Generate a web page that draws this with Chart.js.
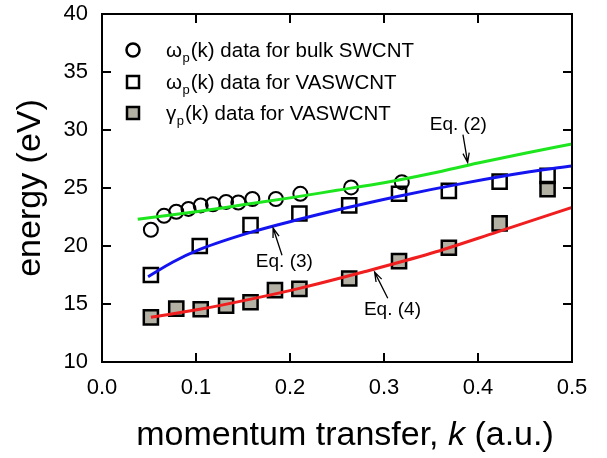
<!DOCTYPE html>
<html lang="en">
<head>
<meta charset="UTF-8">
<script src="https://cdn.jsdelivr.net/npm/chart.js@4.4.0/dist/chart.umd.min.js"></script>
<title>Plasmon dispersion</title>
<style>
  body { margin: 0; background: #fff; }
  #wrap { width: 607px; height: 458px; }
</style>
</head>
<body>
<div id="wrap"><canvas id="chart" width="607" height="458"></canvas></div>
<script>
// values: momentum transfer k (a.u.) vs energy (eV)
const kBulk = [0.052, 0.066, 0.079, 0.092, 0.105, 0.118, 0.132, 0.145, 0.160, 0.185, 0.211, 0.265, 0.319];
const wBulk = [21.4, 22.6, 22.95, 23.2, 23.5, 23.6, 23.8, 23.75, 24.05, 24.05, 24.5, 25.05, 25.5];

const kVaw = [0.052, 0.104, 0.158, 0.210, 0.263, 0.316, 0.369, 0.423, 0.474];
const wVaw = [17.5, 20.0, 21.8, 22.8, 23.5, 24.5, 24.75, 25.55, 26.05];

const kVag = [0.052, 0.079, 0.105, 0.132, 0.158, 0.184, 0.210, 0.263, 0.316, 0.369, 0.423, 0.474];
const gVag = [13.85, 14.6, 14.55, 14.85, 15.15, 16.2, 16.3, 17.2, 18.7, 19.85, 21.95, 24.9];

// fitted curves (Eq. 2, 3, 4)
const kEq2 = [0.038, 0.10, 0.15, 0.20, 0.25, 0.30, 0.35, 0.40, 0.45, 0.50];
const eEq2 = [22.3, 22.95, 23.55, 24.15, 24.8, 25.45, 26.25, 27.15, 28.0, 28.8];

const kEq3 = [0.049, 0.075, 0.104, 0.157, 0.210, 0.250, 0.313, 0.384, 0.455, 0.50];
const eEq3 = [17.35, 18.6, 19.7, 21.15, 22.3, 23.1, 24.25, 25.4, 26.4, 26.9];

const kEq4 = [0.052, 0.104, 0.157, 0.210, 0.280, 0.350, 0.420, 0.50];
const eEq4 = [13.85, 14.54, 15.4, 16.35, 17.8, 19.37, 21.2, 23.33];

const xTicks = [0.0, 0.1, 0.2, 0.3, 0.4, 0.5];
const yTicks = [10, 15, 20, 25, 30, 35, 40];

// "Eq. (n)" labels with arrows pointing at the curves
const eqLabels = ['Eq. (2)', 'Eq. (3)', 'Eq. (4)'];
const eqTextK = [0.379, 0.194, 0.309];
const eqTextE = [30.45, 18.6, 14.5];
const eqTailK = [0.384, 0.1915, 0.304];
const eqTailE = [29.6, 19.2, 15.5];
const eqTipK = [0.389, 0.182, 0.290];
const eqTipE = [27.2, 21.55, 17.75];

// legend
const legSymbol = ['ω', 'ω', 'γ'];
const legText = ['(k) data for bulk SWCNT', '(k) data for VASWCNT', '(k) data for VASWCNT'];

const FONT = "'Liberation Sans', Arial, sans-serif";
const GREY = '#b3b1a3';

const pts = (xs, ys) => xs.map((v, i) => ({ x: v, y: ys[i] }));

// grid lines only at the two ends of each axis -> the box round the plot
const edgeColor = (lo, hi) => c => (c.tick && (c.tick.value === lo || c.tick.value === hi)) ? '#000000' : 'rgba(0,0,0,0)';

const framePlugin = {
  id: 'boxFrame',
  afterDraw(chart) {
    const ctx = chart.ctx;
    const a = chart.chartArea;
    const sx = chart.scales.x, sy = chart.scales.y;
    ctx.save();
    // box round the plot with inward ticks
    ctx.lineWidth = 2;
    ctx.strokeStyle = '#000000';
    ctx.beginPath();
    ctx.rect(a.left, a.top, a.right - a.left, a.bottom - a.top);
    xTicks.slice(1, -1).forEach(v => {
      const tx = sx.getPixelForValue(v);
      ctx.moveTo(tx, a.bottom); ctx.lineTo(tx, a.bottom - 9);
      ctx.moveTo(tx, a.top); ctx.lineTo(tx, a.top + 9);
    });
    yTicks.slice(1, -1).forEach(v => {
      const ty = sy.getPixelForValue(v);
      ctx.moveTo(a.left, ty); ctx.lineTo(a.left + 9, ty);
      ctx.moveTo(a.right, ty); ctx.lineTo(a.right - 9, ty);
    });
    ctx.stroke();

    // equation labels + arrows
    ctx.fillStyle = '#000000';
    ctx.font = '19px ' + FONT;
    ctx.textAlign = 'center';
    ctx.textBaseline = 'middle';
    ctx.lineWidth = 1.3;
    eqLabels.forEach((t, i) => {
      ctx.fillText(t, sx.getPixelForValue(eqTextK[i]), sy.getPixelForValue(eqTextE[i]));
      const x0 = sx.getPixelForValue(eqTailK[i]), y0 = sy.getPixelForValue(eqTailE[i]);
      const x1 = sx.getPixelForValue(eqTipK[i]), y1 = sy.getPixelForValue(eqTipE[i]);
      const ang = Math.atan2(y1 - y0, x1 - x0);
      ctx.beginPath();
      ctx.moveTo(x0, y0); ctx.lineTo(x1, y1);
      ctx.moveTo(x1 - 10 * Math.cos(ang - 0.32), y1 - 10 * Math.sin(ang - 0.32));
      ctx.lineTo(x1, y1);
      ctx.lineTo(x1 - 10 * Math.cos(ang + 0.32), y1 - 10 * Math.sin(ang + 0.32));
      ctx.stroke();
    });

    // legend
    const lx = a.left + 31, tx0 = a.left + 64;
    const rows = [a.top + 36, a.top + 68, a.top + 99];
    ctx.textAlign = 'left';
    ctx.textBaseline = 'alphabetic';
    rows.forEach((ry, i) => {
      ctx.lineWidth = 2.5;
      ctx.beginPath();
      if (i === 0) {
        ctx.arc(lx, ry, 6.5, 0, Math.PI * 2);
        ctx.stroke();
      } else {
        ctx.rect(lx - 6, ry - 6, 12, 12);
        if (i === 2) { ctx.fillStyle = GREY; ctx.fill(); }
        ctx.stroke();
      }
      ctx.fillStyle = '#000';
      const base = ry + 7;
      ctx.font = '20.5px ' + FONT;
      ctx.fillText(legSymbol[i], tx0, base);
      let cx = tx0 + ctx.measureText(legSymbol[i]).width;
      ctx.font = '13px ' + FONT;
      ctx.fillText('p', cx + 0.5, base + 5);
      cx += ctx.measureText('p').width + 1.5;
      ctx.font = '20.5px ' + FONT;
      ctx.fillText(legText[i], cx, base);
    });

    // x-axis title with italic k
    const parts = [['momentum transfer, ', ''], ['k', 'italic '], [' (a.u.)', '']];
    let w = 0;
    parts.forEach(p => { ctx.font = p[1] + '34px ' + FONT; w += ctx.measureText(p[0]).width; });
    let cur = (a.left + a.right) / 2 + 8 - w / 2;
    parts.forEach(p => {
      ctx.font = p[1] + '34px ' + FONT;
      ctx.fillText(p[0], cur, 445);
      cur += ctx.measureText(p[0]).width;
    });
    ctx.restore();
  }
};

const curve = (data, color) => ({
  data, showLine: true, borderColor: color, borderWidth: 3,
  pointRadius: 0, cubicInterpolationMode: 'monotone', fill: false
});

new Chart(document.getElementById('chart'), {
  type: 'scatter',
  data: {
    datasets: [
      curve(pts(kEq2, eEq2), '#1ee61e'),
      curve(pts(kEq3, eEq3), '#1414f0'),
      curve(pts(kEq4, eEq4), '#f01e1e'),
      { data: pts(kBulk, wBulk), pointStyle: 'circle', pointRadius: 7, borderWidth: 2,
        borderColor: '#000', backgroundColor: 'rgba(0,0,0,0)' },
      { data: pts(kVaw, wVaw), pointStyle: 'rect', pointRadius: 10, borderWidth: 2.5,
        borderColor: '#000', backgroundColor: 'rgba(0,0,0,0)' },
      { data: pts(kVag, gVag), pointStyle: 'rect', pointRadius: 10, borderWidth: 2.5,
        borderColor: '#000', backgroundColor: GREY }
    ]
  },
  options: {
    responsive: false,
    animation: false,
    layout: { padding: { top: 14, right: 35, left: 0, bottom: 0 } },
    plugins: { legend: { display: false }, tooltip: { enabled: false } },
    scales: {
      x: {
        type: 'linear', min: 0, max: 0.5,
        afterFit: s => { s.height = 96; s.paddingLeft = 0; s.paddingRight = 0; },
        afterBuildTicks: s => { s.ticks = xTicks.map(v => ({ value: v })); },
        grid: { display: true, drawTicks: false, lineWidth: 2, color: edgeColor(0, 0.5) },
        border: { display: true, color: '#000', width: 2 },
        ticks: { color: '#000', padding: 13, font: { family: FONT, size: 22 },
                 callback: v => v.toFixed(1) },
        title: { display: false }
      },
      y: {
        type: 'linear', min: 10, max: 40,
        afterFit: s => { s.width = 102; s.paddingTop = 0; s.paddingBottom = 0; },
        afterBuildTicks: s => { s.ticks = yTicks.map(v => ({ value: v })); },
        grid: { display: true, drawTicks: false, lineWidth: 2, color: edgeColor(10, 40) },
        border: { display: true, color: '#000', width: 2 },
        ticks: { color: '#000', padding: 14, font: { family: FONT, size: 22 } },
        title: { display: true, text: 'energy (eV)', color: '#000',
                 font: { family: FONT, size: 34 }, padding: { top: 10, bottom: 0 } }
      }
    }
  },
  plugins: [framePlugin]
});
</script>
</body>
</html>
